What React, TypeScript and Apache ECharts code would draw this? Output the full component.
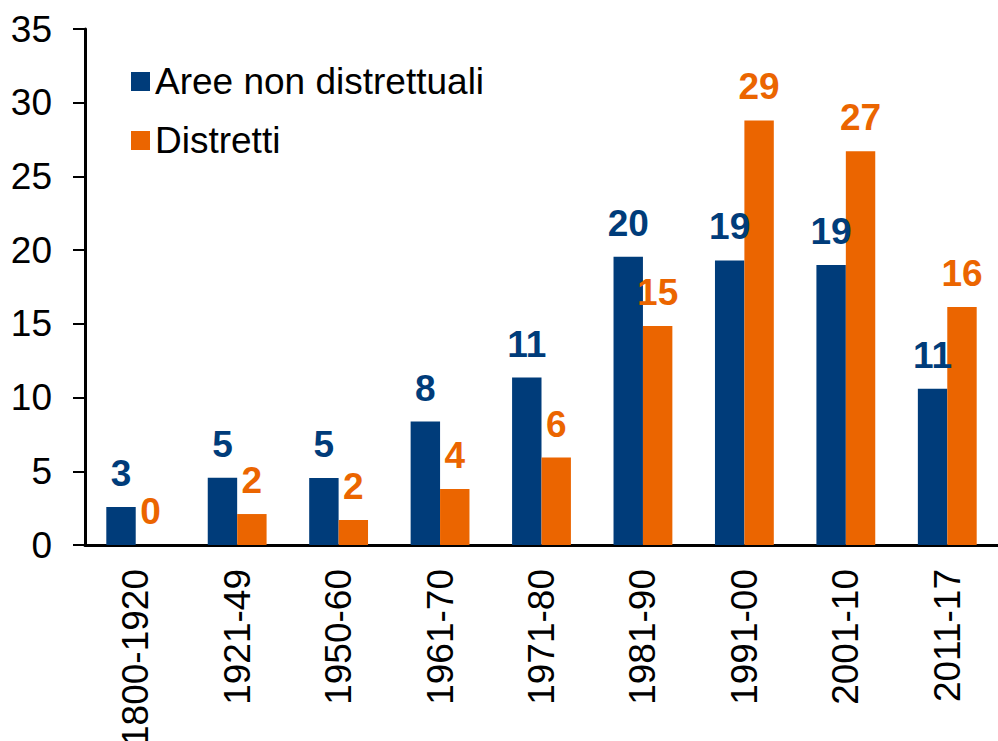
import React, { useEffect, useRef } from "react";
import * as echarts from "echarts";

const categories = ["1800-1920", "1921-49", "1950-60", "1961-70", "1971-80", "1981-90", "1991-00", "2001-10", "2011-17"];
const areeNonDistrettuali = [2.58, 4.57, 4.55, 8.37, 11.36, 19.55, 19.3, 19.0, 10.6];
const distretti = [0, 2.1, 1.7, 3.8, 5.93, 14.85, 28.8, 26.7, 16.15];
const yTicks = { min: 0, max: 35, interval: 5 };

const BLUE = "#003C7A";
const ORANGE = "#EB6500";
const FONT = "'Liberation Sans', Arial, sans-serif";
const FS = 37;

export default function App() {
  const ref = useRef<HTMLDivElement>(null);
  useEffect(() => {
    if (!ref.current) return;
    const chart = echarts.init(ref.current, undefined, { renderer: "svg" });
    const label = (color: string) => ({
      show: true,
      position: "top" as const,
      distance: 15,
      color,
      fontFamily: FONT,
      fontSize: FS,
      fontWeight: "bold" as const,
      formatter: (p: any) => String(Math.round(p.value)),
    });
    chart.setOption({
      animation: false,
      backgroundColor: "#ffffff",
      grid: { left: 85, right: 0, top: 29, bottom: 196, containLabel: false, outerBoundsMode: "none" },
      legend: {
        orient: "vertical",
        left: 126,
        top: 58,
        itemWidth: 19,
        itemHeight: 19,
        itemGap: 22,
        icon: "rect",
        textStyle: { fontFamily: FONT, fontSize: FS, color: "#000", lineHeight: 37 },
        data: ["Aree non distrettuali", "Distretti"],
      },
      xAxis: {
        type: "category",
        data: categories,
        axisLine: { lineStyle: { color: "#000", width: 3 } },
        axisTick: { show: false },
        axisLabel: {
          rotate: 90,
          interval: 0,
          margin: 24,
          color: "#000",
          fontFamily: FONT,
          fontSize: FS,
        },
      },
      yAxis: {
        type: "value",
        min: yTicks.min,
        max: yTicks.max,
        interval: yTicks.interval,
        splitLine: { show: false },
        axisLine: { show: true, lineStyle: { color: "#000", width: 3 } },
        axisTick: { show: true, length: 12, lineStyle: { color: "#000", width: 2 } },
        axisLabel: { margin: 33, color: "#000", fontFamily: FONT, fontSize: FS },
      },
      series: [
        {
          name: "Aree non distrettuali",
          type: "bar",
          data: areeNonDistrettuali,
          itemStyle: { color: BLUE },
          barGap: "0%",
          barCategoryGap: "42%",
          label: label(BLUE),
        },
        {
          name: "Distretti",
          type: "bar",
          data: distretti,
          itemStyle: { color: ORANGE },
          barGap: "0%",
          barCategoryGap: "42%",
          label: label(ORANGE),
        },
      ],
    });
    return () => chart.dispose();
  }, []);
  return (
    <div
      ref={ref}
      style={{ position: "fixed", left: 0, top: 0, width: 998, height: 741, background: "#fff" }}
    />
  );
}
